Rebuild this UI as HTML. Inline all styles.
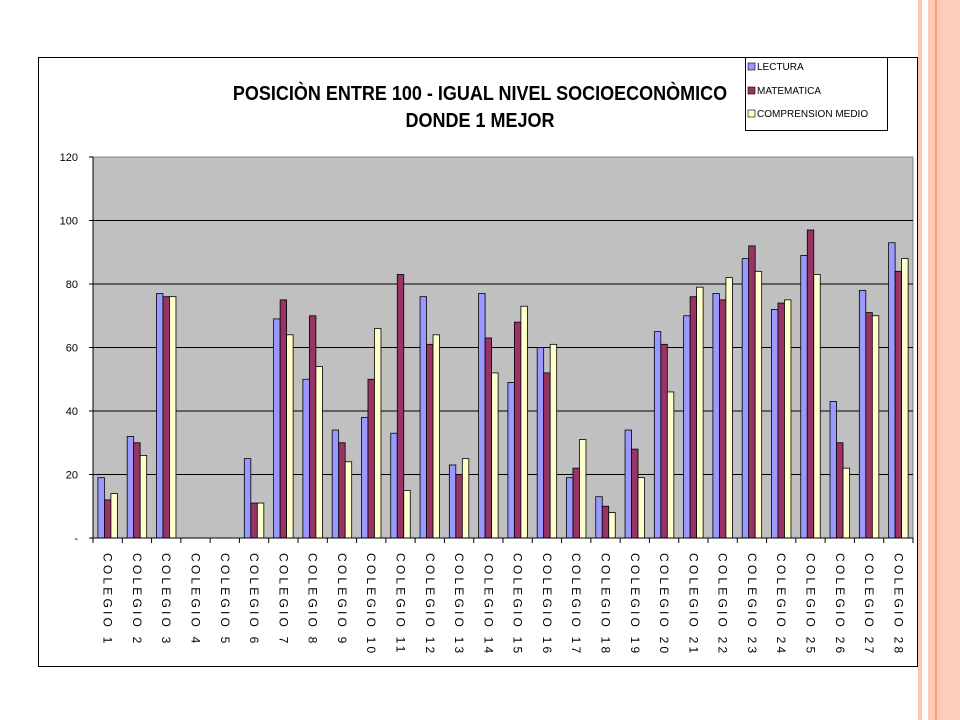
<!DOCTYPE html>
<html><head><meta charset="utf-8"><style>
body{margin:0;background:#fff;}
svg{display:block;font-family:"Liberation Sans",sans-serif;}
</style></head><body>
<svg width="960" height="720" viewBox="0 0 960 720">
<rect x="0" y="0" width="960" height="720" fill="#fff"/>
<g>
<rect x="918" y="0" width="4" height="720" fill="#fbc6b2"/>
<rect x="928" y="0" width="32" height="720" fill="#fccab6"/>
<rect x="935" y="0" width="2" height="720" fill="#f0a27e"/>
<rect x="943" y="0" width="17" height="720" fill="#fdd0bd"/>
</g>
<rect x="38.5" y="57.5" width="879" height="609" fill="#fff" stroke="#000"/>
<text x="480" y="100" text-anchor="middle" font-size="20" font-weight="bold" transform="translate(480 0) scale(0.9 1) translate(-480 0)">POSICIÒN ENTRE 100 - IGUAL NIVEL SOCIOECONÒMICO</text>
<text x="480" y="127" text-anchor="middle" font-size="20" font-weight="bold" transform="translate(480 0) scale(0.9 1) translate(-480 0)">DONDE 1 MEJOR</text>
<g>
<rect x="745.5" y="57.5" width="142" height="73" fill="#fff" stroke="#000"/>
<rect x="748" y="63" width="7" height="7" fill="#9999ff" stroke="#000" stroke-width="0.6"/>
<text x="757" y="70" font-size="10">LECTURA</text>
<rect x="748" y="87" width="7" height="7" fill="#993366" stroke="#000" stroke-width="0.6"/>
<text x="757" y="94" font-size="10">MATEMATICA</text>
<rect x="748" y="110" width="7" height="7" fill="#ffffcc" stroke="#000" stroke-width="0.6"/>
<text x="757" y="117" font-size="10">COMPRENSION MEDIO</text>
</g>
<rect x="93" y="157" width="820" height="381" fill="#c0c0c0" stroke="#808080"/>
<g id="grid"></g><g id="bars"></g><g id="axes"></g>
</svg>
<script>
const categories=[];for(let i=1;i<=28;i++)categories.push("COLEGIO "+i);
const lectura=[19,32,77,0,0,25,69,50,34,38,33,76,23,77,49,60,19,13,34,65,70,77,88,72,89,43,78,93];
const matematica=[12,30,76,0,0,11,75,70,30,50,83,61,20,63,68,52,22,10,28,61,76,75,92,74,97,30,71,84];
const comprension=[14,26,76,0,0,11,64,54,24,66,15,64,25,52,73,61,31,8,19,46,79,82,84,75,83,22,70,88];
const yTicks=[0,20,40,60,80,100,120];
const yTickLabels=["-","20","40","60","80","100","120"];
const NS="http://www.w3.org/2000/svg";
const X0=93,X1=913,Y0=538,Y1=157,YMAX=120;
const y=v=>Y0-(v/YMAX)*(Y0-Y1);
const gw=(X1-X0)/categories.length;
const x=i=>X0+i*gw;
function mk(t,a,p){const e=document.createElementNS(NS,t);for(const k in a)e.setAttribute(k,a[k]);p.appendChild(e);return e;}
const grid=document.getElementById('grid'),bars=document.getElementById('bars'),axes=document.getElementById('axes');
yTicks.forEach((v,k)=>{
 if(v>0&&v<YMAX){const l=mk('line',{x1:X0,x2:X1,y1:y(v),y2:y(v),stroke:'#000','stroke-width':1},grid);
 
 }
 mk('line',{x1:X0-4,x2:X0,y1:y(v),y2:y(v),stroke:'#000'},axes);
 const t=mk('text',{x:X0-15,y:y(v)+4,'text-anchor':'end','font-size':11},axes);t.textContent=yTickLabels[k];
 
 
});
mk('line',{x1:X0,x2:X0,y1:Y1,y2:Y0,stroke:'#000'},axes);
mk('line',{x1:X0,x2:X1,y1:Y0,y2:Y0,stroke:'#000'},axes);
const series=[[lectura,'#9999ff','lectura'],[matematica,'#993366','matematica'],[comprension,'#ffffcc','comprension']];
const bw=6.5;
categories.forEach((c,i)=>{
 const cx=x(i)+gw/2;
 series.forEach(([arr,col,nm],s)=>{
  const v=arr[i];if(v<=0)return;
  const r=mk('rect',{x:cx-1.5*bw+s*bw,y:y(v),width:bw,height:Y0-y(v),fill:col,stroke:'#000','stroke-width':0.8},bars);
  
  
 });
 mk('line',{x1:x(i),x2:x(i),y1:Y0,y2:Y0+5,stroke:'#000'},axes);
 const t=mk('text',{x:0,y:0,'font-size':12,'letter-spacing':'3.2','transform':`translate(${cx-4},553) rotate(90)`},axes);
 t.textContent=c;
 
 
});
mk('line',{x1:X1,x2:X1,y1:Y0,y2:Y0+5,stroke:'#000'},axes);
</script>
</body></html>
